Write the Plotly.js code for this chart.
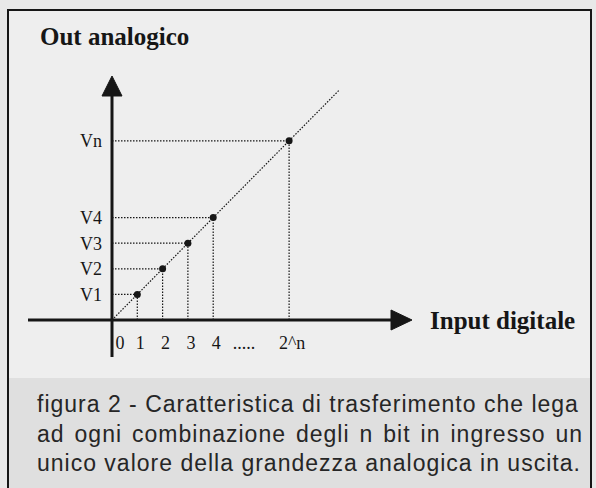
<!DOCTYPE html>
<html>
<head>
<meta charset="utf-8">
<script src="https://cdn.plot.ly/plotly-3.0.1.min.js"></script>
<style>
  html, body { margin: 0; padding: 0; background: #e8e8e8; }
  #chart { width: 596px; height: 488px; }
</style>
</head>
<body>
<div id="chart"></div>
<script>
// --- Data ---
const inputCodes = [1, 2, 3, 4, 7];          // 1, 2, 3, 4 ... 2^n (drawn at 7)
const outputLevels = [1, 2, 3, 4, 7];        // V1 .. V4 ... Vn
const levelLabels = ['V1', 'V2', 'V3', 'V4', 'Vn'];
const codeTickVals = [0.2, 1, 2, 3, 4, 5.1, 7];   // "0" sits just right of the axis line
const codeTickText = ['0', '1', '2', '3', '4', '.....', '2^n'];
const rampEnd = 9;

const captionLines = [
    'figura 2 - Caratteristica di trasferimento che lega',
    'ad ogni combinazione degli n bit in ingresso un',
    'unico valore della grandezza analogica in uscita.'
];

// --- Page geometry (px) ---
const W = 596, H = 488;
const ORIGIN_PX = 112, ORIGIN_PY = 320;
const UNIT_X = 25.3, UNIT_Y = 25.6;
const px2x = p => (p - ORIGIN_PX) / UNIT_X;
const py2y = p => (ORIGIN_PY - p) / UNIT_Y;
const paperX = p => p / W;
const paperY = p => 1 - p / H;

// axis extents
const xAxisStart = px2x(28), xAxisEnd = px2x(391), xArrowTip = px2x(412);
const yAxisStart = py2y(357), yAxisEnd = py2y(96), yArrowTip = py2y(76);
const headHalfX = 10 / UNIT_X, headHalfY = 10 / UNIT_Y;

const INK = '#161616';
const SERIF = '"Liberation Serif", "Times New Roman", serif';
const SANS = '"Liberation Sans", Arial, sans-serif';

// --- Traces ---
const guideX = [], guideY = [];
inputCodes.forEach((c, i) => {
    const v = outputLevels[i];
    guideX.push(0, c, null, c, c, null);
    guideY.push(v, v, null, 0, v, null);
});

const traces = [
    { x: guideX, y: guideY, mode: 'lines', line: { color: INK, width: 1.2, dash: '1.5px,1.5px' }, connectgaps: false },
    { x: [0, rampEnd], y: [0, rampEnd], mode: 'lines', line: { color: INK, width: 1.2, dash: '1.5px,1.5px' } },
    { x: [xAxisStart, xAxisEnd], y: [0, 0], mode: 'lines', line: { color: INK, width: 3 } },
    { x: [0, 0], y: [yAxisStart, yAxisEnd], mode: 'lines', line: { color: INK, width: 3 } },
    { x: inputCodes, y: outputLevels, mode: 'markers', marker: { color: INK, size: 7 } }
];

// --- Shapes: frame, backgrounds, arrowheads ---
const shapes = [
    { type: 'rect', xref: 'paper', yref: 'paper', layer: 'below',
      x0: paperX(8), x1: paperX(591), y0: paperY(378), y1: paperY(10),
      fillcolor: '#eeeeee', line: { width: 0 } },
    { type: 'rect', xref: 'paper', yref: 'paper', layer: 'below',
      x0: paperX(8), x1: paperX(591), y0: paperY(500), y1: paperY(378),
      fillcolor: '#dfdfdf', line: { width: 0 } },
    { type: 'rect', xref: 'paper', yref: 'paper', layer: 'above',
      x0: paperX(8), x1: paperX(591), y0: paperY(500), y1: paperY(10),
      line: { color: INK, width: 2 } },
    { type: 'path', xref: 'x', yref: 'y', fillcolor: INK, line: { color: INK, width: 1 },
      path: `M${-headHalfX},${yAxisEnd} L${headHalfX},${yAxisEnd} L0,${yArrowTip} Z` },
    { type: 'path', xref: 'x', yref: 'y', fillcolor: INK, line: { color: INK, width: 1 },
      path: `M${xAxisEnd},${-headHalfY} L${xAxisEnd},${headHalfY} L${xArrowTip},0 Z` }
];

// --- Annotations ---
const captionStyles = [
    'letter-spacing:1px',
    'letter-spacing:1px;word-spacing:2.6px',
    'letter-spacing:1px'
];
const captionY = [404, 434, 463];

const annotations = [
    { xref: 'paper', yref: 'paper', x: paperX(38), y: paperY(37), xanchor: 'left', yanchor: 'middle',
      text: '<b>Out analogico</b>', showarrow: false, font: { family: SERIF, size: 25, color: INK } },
    { xref: 'paper', yref: 'paper', x: paperX(428), y: paperY(320), xanchor: 'left', yanchor: 'middle',
      text: '<b>Input digitale</b>', showarrow: false, font: { family: SERIF, size: 25, color: INK } },
    ...captionLines.map((line, i) => ({
        xref: 'paper', yref: 'paper', x: paperX(35), y: paperY(captionY[i]),
        xanchor: 'left', yanchor: 'middle', showarrow: false,
        text: `<span style="${captionStyles[i]}">${line}</span>`,
        font: { family: SANS, size: 23, color: '#262626' }
    }))
];

const layout = {
    width: W, height: H,
    margin: { l: 0, r: 0, t: 0, b: 0 },
    paper_bgcolor: '#e8e8e8',
    plot_bgcolor: 'rgba(0,0,0,0)',
    showlegend: false,
    hovermode: false,
    xaxis: {
        range: [px2x(0), px2x(W)], domain: [0, 1], anchor: 'free', position: paperY(ORIGIN_PY),
        showgrid: false, zeroline: false, showline: false, ticks: '',
        tickmode: 'array', tickvals: codeTickVals, ticktext: codeTickText,
        tickfont: { family: SERIF, size: 18, color: INK },
        ticklabelstandoff: 10, ticklabelshift: 3, fixedrange: true
    },
    yaxis: {
        range: [py2y(H), py2y(0)], domain: [0, 1], anchor: 'free', position: paperX(ORIGIN_PX),
        showgrid: false, zeroline: false, showline: false, ticks: '',
        tickmode: 'array', tickvals: outputLevels, ticktext: levelLabels,
        tickfont: { family: SERIF, size: 18, color: INK },
        ticklabelstandoff: 10, fixedrange: true
    },
    shapes,
    annotations
};

Plotly.newPlot('chart', traces, layout, { staticPlot: true, displayModeBar: false });
</script>
</body>
</html>
